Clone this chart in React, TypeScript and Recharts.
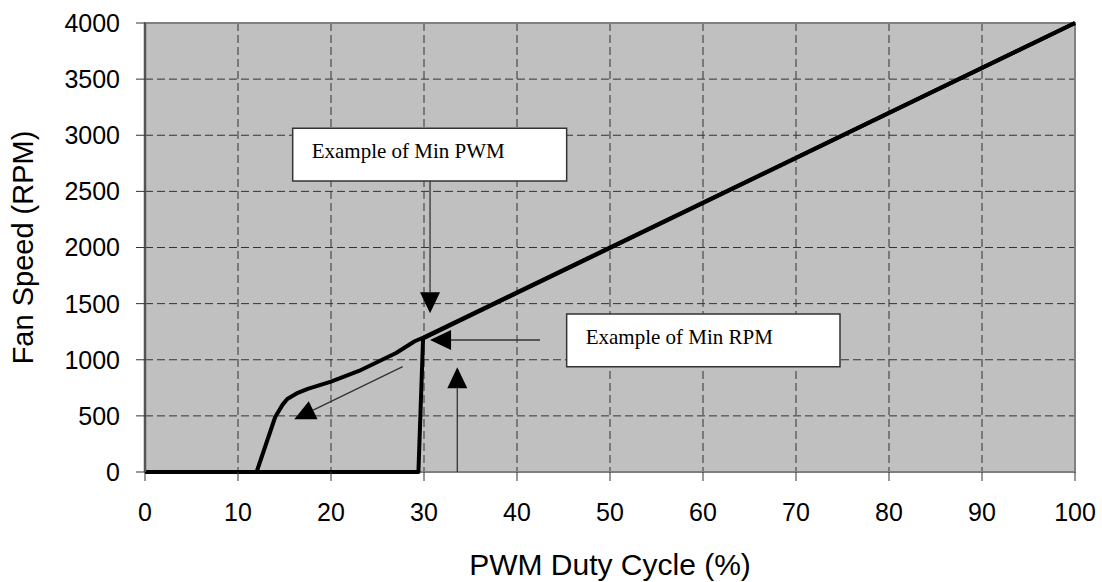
import React from "react";
import {
    LineChart, Line, XAxis, YAxis, CartesianGrid, ReferenceArea, ReferenceLine, Label,
} from "recharts";

// rising duty cycle: fan stays off until min PWM, then jumps to min RPM
const risePwm = [0, 29.4, 29.9, 100];
const riseRpm = [0, 0, 1190, 4000];

// falling duty cycle: fan keeps turning below min PWM until it stalls
const fallPwm = [100, 30, 29, 27, 25, 23, 20, 17.5, 16.3, 15.3, 14.8, 14, 12, 0];
const fallRpm = [4000, 1200, 1165, 1060, 980, 900, 805, 740, 700, 650, 600, 490, 0, 0];

const xTicks = [0, 10, 20, 30, 40, 50, 60, 70, 80, 90, 100];
const yTicks = [0, 500, 1000, 1500, 2000, 2500, 3000, 3500, 4000];

const riseData = risePwm.map((x, i) => ({ x, y: riseRpm[i] }));
const fallData = fallPwm.map((x, i) => ({ x, y: fallRpm[i] }));

const SANS = "'Liberation Sans', Arial, sans-serif";
const SERIF = "'Liberation Serif', 'Times New Roman', serif";

const Arrow = (props: any) => {
    const { x1, y1, x2, y2 } = props;
    const dx = x2 - x1;
    const dy = y2 - y1;
    const len = Math.hypot(dx, dy) || 1;
    const ux = dx / len;
    const uy = dy / len;
    const bx = x2 - ux * 21;
    const by = y2 - uy * 21;
    const pts = [
        `${x2},${y2}`,
        `${bx - uy * 10},${by + ux * 10}`,
        `${bx + uy * 10},${by - ux * 10}`,
    ].join(" ");
    return (
        <g>
            <line x1={x1} y1={y1} x2={bx} y2={by} stroke="#333" strokeWidth={1.3} />
            <polygon points={pts} fill="#000" />
        </g>
    );
};

const boxLabel = (text: string) => (p: any) => {
    const vb = p.viewBox || {};
    return (
        <text x={vb.x + 19} y={vb.y + 30} fontFamily={SERIF} fontSize={21} fill="#000">
            {text}
        </text>
    );
};

const yTitle = (p: any) => {
    const vb = p.viewBox || {};
    const cx = vb.x + 33;
    const cy = vb.y + vb.height / 2;
    return (
        <text x={cx} y={cy} transform={`rotate(-90, ${cx}, ${cy})`} textAnchor="middle"
            fontFamily={SANS} fontSize={29} fill="#000">
            Fan Speed (RPM)
        </text>
    );
};

const xTitle = (p: any) => {
    const vb = p.viewBox || {};
    return (
        <text x={vb.x + vb.width / 2} y={vb.y + 103} textAnchor="middle"
            fontFamily={SANS} fontSize={30} fill="#000">
            PWM Duty Cycle (%)
        </text>
    );
};

export default function App() {
    const tick = { fill: "#000", fontSize: 25, fontFamily: SANS };
    return (
        <div style={{ position: "absolute", left: 0, top: 0, background: "#fff" }}>
            <LineChart width={1102} height={582} margin={{ top: 23, right: 27, bottom: 0, left: 0 }}>
                <CartesianGrid fill="#c0c0c0" fillOpacity={1} stroke="#333" strokeDasharray="8 4" />
                <XAxis
                    type="number"
                    dataKey="x"
                    domain={[0, 100]}
                    ticks={xTicks}
                    height={110}
                    tickSize={9}
                    tickMargin={22}
                    tick={tick}
                    tickLine={{ stroke: "#333" }}
                    axisLine={false}
                >
                    <Label content={xTitle} />
                </XAxis>
                <YAxis
                    type="number"
                    domain={[0, 4000]}
                    ticks={yTicks}
                    width={145}
                    tickSize={9}
                    tickMargin={16}
                    tick={tick}
                    tickLine={{ stroke: "#333" }}
                    axisLine={{ stroke: "#555", strokeWidth: 2.5 }}
                >
                    <Label content={yTitle} />
                </YAxis>
                <ReferenceArea x1={0} x2={100} y1={0} y2={4000} fill="none" stroke="#808080" strokeWidth={2} />
                <ReferenceArea x1={15.88} x2={45.34} y1={2592} y2={3062} fill="#fff" fillOpacity={1}
                    stroke="#333" strokeWidth={1.5} label={boxLabel("Example of Min PWM")} />
                <ReferenceArea x1={45.34} x2={74.73} y1={938} y2={1408} fill="#fff" fillOpacity={1}
                    stroke="#333" strokeWidth={1.5} label={boxLabel("Example of Min RPM")} />
                <Line data={fallData} dataKey="y" type="linear" stroke="#000" strokeWidth={4}
                    strokeLinejoin="round" dot={false} isAnimationActive={false} />
                <Line data={riseData} dataKey="y" type="linear" stroke="#000" strokeWidth={4}
                    strokeLinejoin="round" dot={false} isAnimationActive={false} />
                <ReferenceLine segment={[{ x: 30.65, y: 2592 }, { x: 30.65, y: 1414 }]} shape={Arrow} ifOverflow="visible" />
                <ReferenceLine segment={[{ x: 42.47, y: 1176 }, { x: 30.65, y: 1176 }]} shape={Arrow} ifOverflow="visible" />
                <ReferenceLine segment={[{ x: 33.58, y: 0 }, { x: 33.58, y: 933 }]} shape={Arrow} ifOverflow="visible" />
                <ReferenceLine segment={[{ x: 27.71, y: 938 }, { x: 16.05, y: 469 }]} shape={Arrow} ifOverflow="visible" />
            </LineChart>
        </div>
    );
}
